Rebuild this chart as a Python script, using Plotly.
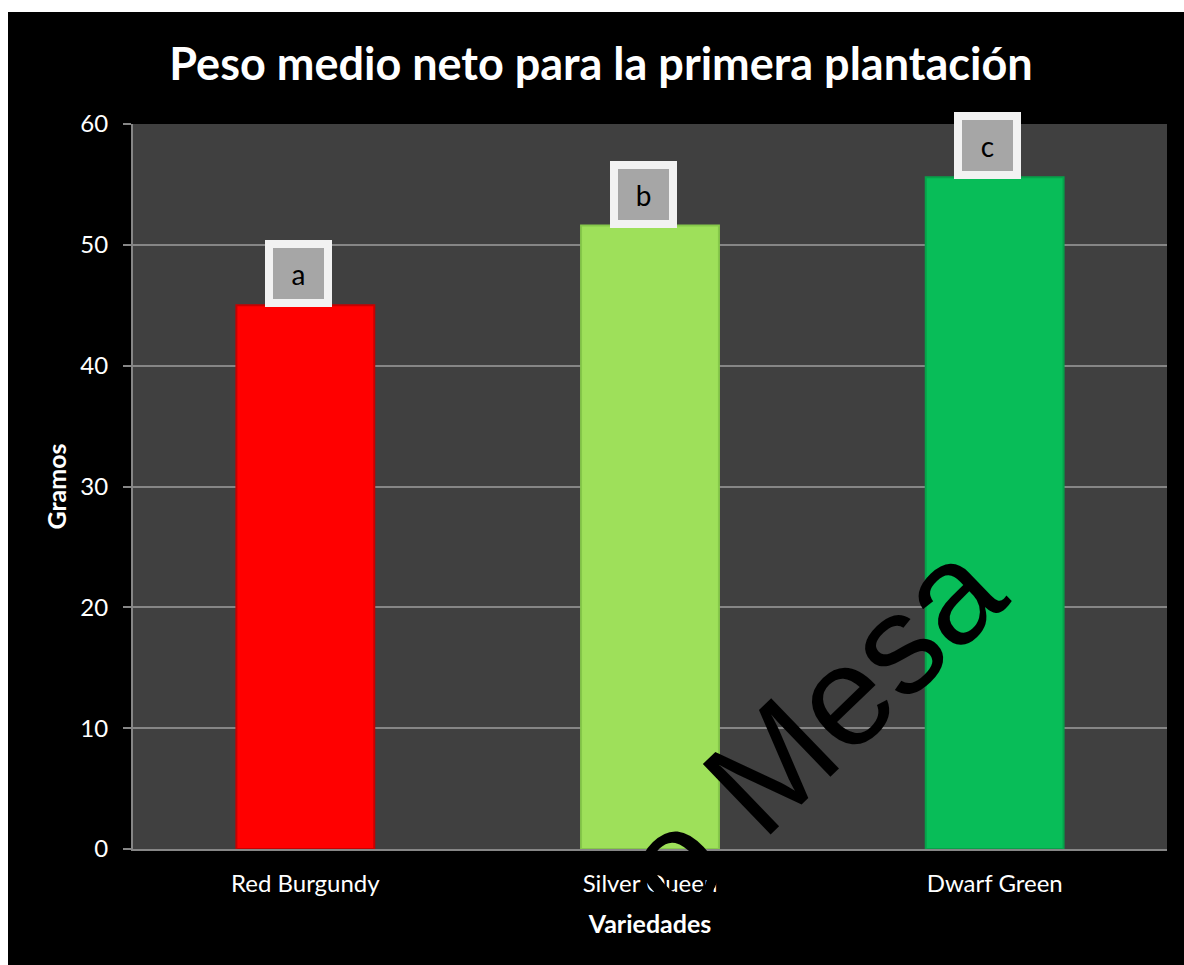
import plotly.graph_objects as go

# ---- data ----
variedades = ["Red Burgundy", "Silver Queen", "Dwarf Green"]
peso_medio = [45.0, 51.6, 55.6]
letras = ["a", "b", "c"]
colores = ["#ff0000", "#9ee05a", "#08bd58"]
bordes = ["#c80000", "#86c84a", "#06a24a"]

title_text = "Peso medio neto para la primera plantación"
y_title = "Gramos"
x_title = "Variedades"
watermark = "o Mesa"

W, H = 1184, 965
# plot area in screenshot coordinates: x 133..1167, y 124..849
ML, MT = 133, 124
MR = W - 1167
MB = H - 849
PW, PH = W - ML - MR, H - MT - MB

def px_x(sx):
    return (sx - ML) / PW

def px_y(sy):
    return (H - MB - sy) / PH

fig = go.Figure()
fig.add_trace(go.Bar(
    x=variedades, y=peso_medio, width=0.4,
    marker=dict(color=colores, line=dict(color=bordes, width=2)),
    showlegend=False, hoverinfo="x+y",
))

font_main = "Lato, 'Open Sans', sans-serif"

annotations = []
for cat, val, lab in zip(variedades, peso_medio, letras):
    annotations.append(dict(
        x=cat, y=val, xref="x", yref="y", text=lab, showarrow=False,
        xanchor="center", yanchor="bottom", xshift=-7, yshift=-2,
        width=51, height=51, bgcolor="#a6a6a6", bordercolor="#f2f2f2",
        borderwidth=8, borderpad=0, font=dict(family=font_main, size=28, color="#000000"),
    ))

# watermark
annotations.append(dict(
    x=px_x(810), y=px_y(727), xref="paper", yref="paper", text=watermark,
    showarrow=False, xanchor="center", yanchor="middle", textangle=-44,
    font=dict(family="'Liberation Sans', Arial, sans-serif", size=142, color="#000000"),
))

# white frame strips (top and left) around the black chart area
shapes = [
    dict(type="rect", xref="paper", yref="paper", x0=px_x(-40), x1=px_x(W + 40),
         y0=px_y(12), y1=px_y(-40), fillcolor="#ffffff", line=dict(width=0), layer="above"),
    dict(type="rect", xref="paper", yref="paper", x0=px_x(-40), x1=px_x(8),
         y0=px_y(H + 40), y1=px_y(-40), fillcolor="#ffffff", line=dict(width=0), layer="above"),
]

fig.update_layout(
    width=W, height=H,
    margin=dict(l=ML, r=MR, t=MT, b=MB, pad=0),
    paper_bgcolor="#000000", plot_bgcolor="#404040",
    bargap=0.6,
    title=dict(text="<b>" + title_text + "</b>", x=601 / W, xref="container", xanchor="center",
               y=1 - 64 / H, yref="container", yanchor="middle",
               font=dict(family=font_main, size=45, color="#ffffff")),
    xaxis=dict(
        showgrid=False, showline=True, linecolor="#868686", linewidth=2,
        tickfont=dict(family=font_main, size=24, color="#ffffff"),
        ticks="", ticklabelstandoff=12,
        title=dict(text="<b>" + x_title + "</b>", standoff=20,
                   font=dict(family=font_main, size=25, color="#ffffff")),
    ),
    yaxis=dict(
        range=[0, 60], dtick=10, tick0=0,
        showgrid=True, gridcolor="#868686", gridwidth=2,
        showline=True, linecolor="#868686", linewidth=2,
        ticks="outside", ticklen=8, tickcolor="#868686", tickwidth=2,
        tickfont=dict(family=font_main, size=24, color="#ffffff"),
        ticklabelstandoff=10,
        zeroline=False,
        title=dict(text="<b>" + y_title + "</b>", standoff=7,
                   font=dict(family=font_main, size=25, color="#ffffff")),
    ),
    annotations=annotations,
    shapes=shapes,
)

fig.write_html(
    "out.html",
    config={"displayModeBar": False},
    post_script=(
        "document.body.style.margin='0';"
        "document.body.style.background='#000000';"
        "document.documentElement.style.background='#000000';"
        "document.documentElement.style.overflow='hidden';"
    ),
)
